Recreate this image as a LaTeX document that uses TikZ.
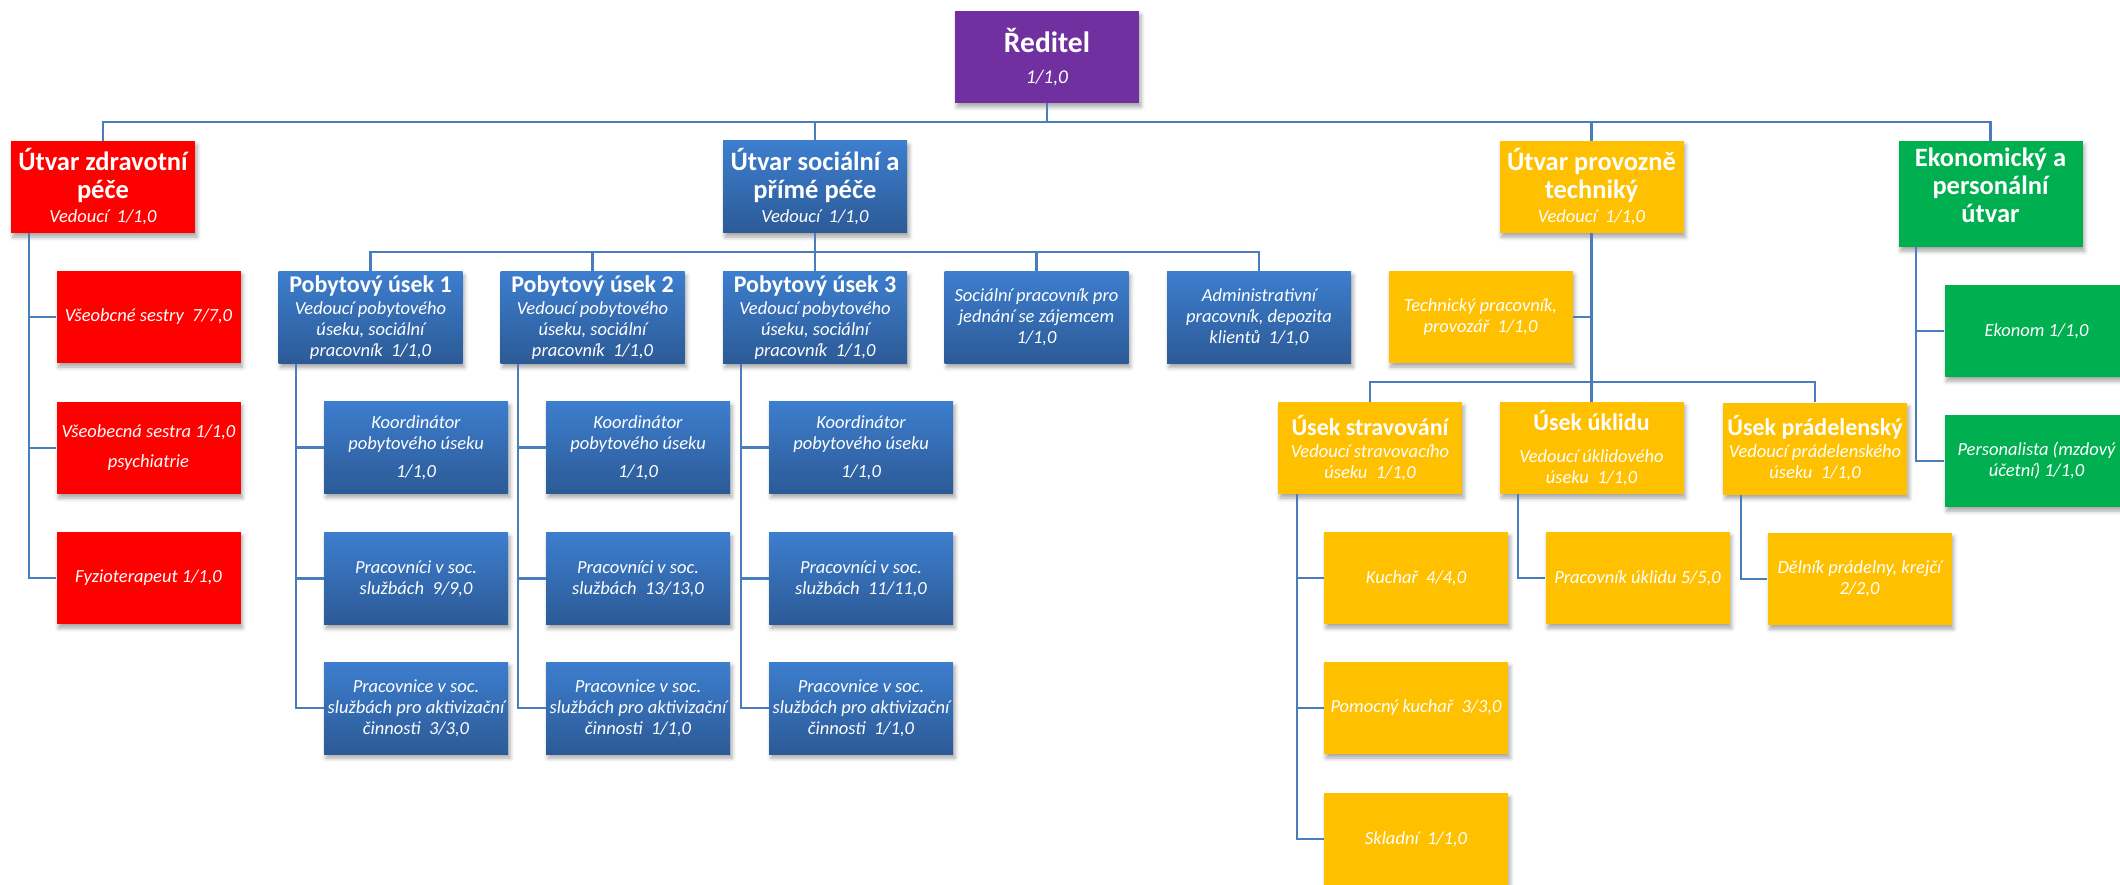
\documentclass[tikz,border=0pt]{standalone}
\usepackage{fontspec}
\setmainfont{Carlito}
\usetikzlibrary{shadows.blur}
\definecolor{cpurple}{HTML}{7030A0}
\definecolor{cred}{HTML}{FF0000}
\definecolor{cgold}{HTML}{FFC000}
\definecolor{cgreen}{HTML}{00B050}
\definecolor{cbluetop}{HTML}{3D7ECE}
\definecolor{cbluebot}{HTML}{2C5A96}
\definecolor{cline}{HTML}{4A7DBB}
\newcommand\tD{\bfseries\upshape\fontsize{29.5}{30}\selectfont}
\newcommand\tA{\bfseries\upshape\fontsize{26.5}{28}\selectfont}
\newcommand\tB{\bfseries\upshape\fontsize{24}{26}\selectfont}
\newcommand\sA{\mdseries\itshape\fontsize{18.5}{21}\selectfont}
\newcommand\sD{\mdseries\itshape\fontsize{19.5}{21}\selectfont}
\tikzset{
  box/.style={rectangle, minimum width=184pt, minimum height=92pt, inner sep=2pt,
    align=center, text=white, font=\sA,
    blur shadow={shadow xshift=2pt, shadow yshift=-4pt, shadow blur radius=4pt, shadow opacity=35}},
  purplebox/.style={box, fill=cpurple},
  redbox/.style={box, fill=cred},
  bluebox/.style={box, top color=cbluetop, bottom color=cbluebot},
  goldbox/.style={box, fill=cgold},
  greenbox/.style={box, fill=cgreen},
  boxtext/.style={align=center, text=white, inner sep=0pt},
  conn/.style={draw=cline, line width=2.2pt},
}
\begin{document}
\begin{tikzpicture}[x=1pt,y=-1pt]
\useasboundingbox (0,0) rectangle (2120,885);
\clip (0,0) rectangle (2120,885);
% top
\node[purplebox] (dir) at (1047,57) {{\tD Ředitel}\\[10pt]{\sD 1/1,0}};
% level 1
\node[redbox, font=\tA] (zdrav) at (103,187) {Útvar zdravotní\\péče\\[-4pt]{\sA Vedoucí~~1/1,0}};
\node[bluebox, font=\tA] (soc) at (815,187) {Útvar sociální a\\přímé péče\\[-4pt]{\sA Vedoucí~~1/1,0}};
\node[goldbox, font=\tA] (prov) at (1591.5,187) {Útvar provozně\\techniký\\[-4pt]{\sA Vedoucí~~1/1,0}};
\node[greenbox, minimum height=106pt] (eko) at (1990.5,194) {};
\node[boxtext, font=\tA] (ekoT) at ([yshift=9pt]eko.center) {Ekonomický a\\personální\\útvar};
% health
\node[redbox] (vs1) at (148.5,317) {Všeobcné sestry~~7/7,0};
\node[redbox] (vs2) at (148.5,448) {Všeobecná sestra 1/1,0\\[9pt]psychiatrie};
\node[redbox] (fyz) at (148.5,578) {Fyzioterapeut 1/1,0};
% social
\node[bluebox] (pob1) at (370.5,317.5) {{\tB Pobytový úsek 1}\\[1pt]Vedoucí pobytového\\úseku, sociální\\pracovník~~1/1,0};
\node[bluebox] (pob2) at (592.5,317.5) {{\tB Pobytový úsek 2}\\[1pt]Vedoucí pobytového\\úseku, sociální\\pracovník~~1/1,0};
\node[bluebox] (pob3) at (815,317.5) {{\tB Pobytový úsek 3}\\[1pt]Vedoucí pobytového\\úseku, sociální\\pracovník~~1/1,0};
\node[bluebox] (socprac) at (1036.5,317.5) {Sociální pracovník pro\\jednání se zájemcem\\1/1,0};
\node[bluebox] (admin) at (1259,317.5) {Administrativní\\pracovník, depozita\\klientů~~1/1,0};
\node[bluebox] (koord1) at (416,447.5) {Koordinátor\\pobytového úseku\\[7pt]1/1,0};
\node[bluebox] (koord2) at (638,447.5) {Koordinátor\\pobytového úseku\\[7pt]1/1,0};
\node[bluebox] (koord3) at (861,447.5) {Koordinátor\\pobytového úseku\\[7pt]1/1,0};
\node[bluebox] (prac1) at (416,578.5) {Pracovníci v soc.\\službách~~9/9,0};
\node[bluebox] (prac2) at (638,578.5) {Pracovníci v soc.\\službách~~13/13,0};
\node[bluebox] (prac3) at (861,578.5) {Pracovníci v soc.\\službách~~11/11,0};
\node[bluebox] (akt1) at (416,708) {Pracovnice v soc.\\službách pro aktivizační\\činnosti~~3/3,0};
\node[bluebox] (akt2) at (638,708) {Pracovnice v soc.\\službách pro aktivizační\\činnosti~~1/1,0};
\node[bluebox] (akt3) at (861,708) {Pracovnice v soc.\\službách pro aktivizační\\činnosti~~1/1,0};
% technical
\node[goldbox] (tech) at (1480.5,317) {Technický pracovník,\\provozář~~1/1,0};
\node[goldbox] (strav) at (1370,448) {{\tB Úsek stravování}\\[1pt]Vedoucí stravovacího\\úseku~~1/1,0};
\node[goldbox] (uklid) at (1591.5,448) {{\tB Úsek úklidu}\\[11pt]Vedoucí úklidového\\úseku~~1/1,0};
\node[goldbox] (prad) at (1815,448.5) {{\tB Úsek prádelenský}\\[1pt]Vedoucí prádelenského\\úseku~~1/1,0};
\node[goldbox] (kuchar) at (1416,578) {Kuchař~~4/4,0};
\node[goldbox] (pomkuch) at (1416,708) {Pomocný kuchař~~3/3,0};
\node[goldbox] (skladni) at (1416,839) {Skladní~~1/1,0};
\node[goldbox] (pracukl) at (1637.5,578) {Pracovník úklidu 5/5,0};
\node[goldbox] (delnik) at (1859.5,579) {Dělník prádelny, krejčí\\2/2,0};
% economic
\node[greenbox] (ekonom) at (2036.5,331) {Ekonom 1/1,0};
\node[greenbox] (personal) at (2036.5,461) {Personalista (mzdový\\účetní) 1/1,0};
% connectors
\foreach \c in {zdrav,soc,prov,eko}
  \draw[conn] (dir.south) -- ++(0,19) -| (\c.north);
\foreach \c in {pob1,pob2,pob3,socprac,admin}
  \draw[conn] (soc.south) -- ++(0,19) -| (\c.north);
\foreach \c in {strav,uklid,prad}
  \draw[conn] (prov.south) -- ++(0,149) -| (\c.north);
\draw[conn] (prov.south) |- (tech.east);
\foreach \c in {vs1,vs2,fyz}
  \draw[conn] ([xshift=18pt]zdrav.south west) |- (\c.west);
\foreach \p/\a/\b/\d in {pob1/koord1/prac1/akt1,pob2/koord2/prac2/akt2,pob3/koord3/prac3/akt3}{
  \draw[conn] ([xshift=18pt]\p.south west) |- (\a.west);
  \draw[conn] ([xshift=18pt]\p.south west) |- (\b.west);
  \draw[conn] ([xshift=18pt]\p.south west) |- (\d.west);
}
\foreach \c in {kuchar,pomkuch,skladni}
  \draw[conn] ([xshift=19pt]strav.south west) |- (\c.west);
\draw[conn] ([xshift=19pt]uklid.south west) |- (pracukl.west);
\draw[conn] ([xshift=18pt]prad.south west) |- (delnik.west);
\foreach \c in {ekonom,personal}
  \draw[conn] ([xshift=18pt]eko.south west) |- (\c.west);
\end{tikzpicture}
\end{document}
